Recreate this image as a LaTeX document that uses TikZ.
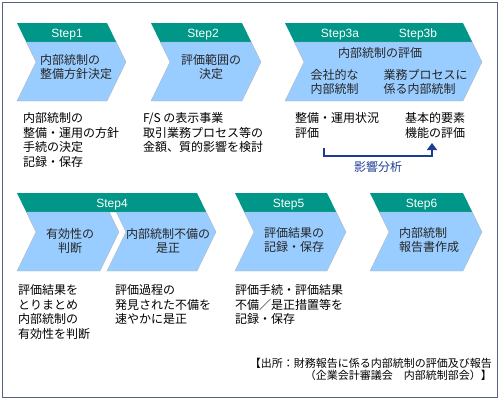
\documentclass[tikz,border=0pt]{standalone}
\usepackage{fontspec}
\setmainfont{Noto Sans CJK JP}
\newfontfamily\latinfont{Liberation Sans}
\usetikzlibrary{arrows.meta}
\definecolor{bandteal}{RGB}{0,150,136}
\definecolor{bodyblue}{RGB}{153,204,255}
\definecolor{framegray}{RGB}{88,98,135}
\definecolor{linkblue}{RGB}{30,60,150}

\begin{document}
\begin{tikzpicture}[
  % 1 unit = 1 px of the 500 x 400 target, y runs downwards
  x=1pt, y=-1pt,
  band/.style={fill=bandteal},
  body/.style={fill=bodyblue, draw=black!30, line width=0.3pt},
  lbl/.style={font=\latinfont\fontsize{12}{14}\selectfont, text=white, inner sep=0pt, anchor=base},
  ctr/.style={font=\fontsize{12}{14}\selectfont, text=black!85, align=center, inner sep=0pt},
  lft/.style={ctr, align=left},
  note/.style={font=\fontsize{12}{14.8}\selectfont, align=left, inner sep=0pt, anchor=north west},
  src/.style={font=\fontsize{11}{12}\selectfont, align=right, inner sep=0pt, anchor=base east},
  link/.style={-{Triangle[length=7pt, width=10pt]}, line width=2pt, linkblue},
]
\useasboundingbox (0,0) rectangle (500,400);
\draw[framegray, line width=1pt] (2,2) rectangle (497,397);
% chevrons: teal band on top, blue body below
\foreach \xa/\xb/\yt in {17/107/23, 151/242/23, 285/463/23, 17/197/193, 235/327/193, 370/463/193}
  \fill[band] (\xa,\yt) -- (\xb,\yt) -- ++(9.26,19) -- ({\xa+9.26},{\yt+19}) -- cycle;
\foreach \xa/\xb/\yt in {17/107/23, 151/242/23, 285/463/23, 17/100/193, 107/197/193, 235/327/193, 370/463/193}
  \filldraw[body] ({\xa+9.26},{\yt+19}) -- ({\xb+9.26},{\yt+19}) -- ({\xb+19},{\yt+39})
    -- (\xb,{\yt+78}) -- (\xa,{\yt+78}) -- ({\xa+19},{\yt+39}) -- cycle;
% row one
\node[lbl] (s1)  at (67,37)  {Step1};
\node[lbl] (s2)  at (203,37) {Step2};
\node[lbl] (s3a) at (340,37) {Step3a};
\node[lbl] (s3b) at (418,37) {Step3b};
\node[lft] (c1)  at (76,66.5)    {内部統制の\\整備方針決定};
\node[ctr] (c2)  at (211,66.5)   {評価範囲の\\決定};
\node[ctr] (c3)  at (380,53)     {内部統制の評価};
\node[ctr] (c3a) at (334.5,81.5) {会社的な\\内部統制};
\node[lft] (c3b) at (425.5,81.5) {業務プロセスに\\係る内部統制};
\node[note] (n1)  at (23,112)  {内部統制の\\整備・運用の方針\\手続の決定\\記録・保存};
\node[note] (n2)  at (143,112) {F/S の表示事業\\取引業務プロセス等の\\金額、質的影響を検討};
\node[note] (n3a) at (295,112) {整備・運用状況\\評価};
\node[note] (n3b) at (405,112) {基本的要素\\機能の評価};
% impact link between 3a and 3b
\coordinate (ia) at (324,148);
\coordinate (ib) at (432,143);
\draw[link] (ia) -- (324,156) -| node[pos=0.25, below=4pt, inner sep=0pt, font=\fontsize{12}{14}\selectfont, text=linkblue] (imp) {影響分析} (ib);
% row two
\node[lbl] (s4) at (112,207)   {Step4};
\node[lbl] (s5) at (288.5,207) {Step5};
\node[lbl] (s6) at (421.5,207) {Step6};
\node[ctr] (c4a) at (70,240.5)  {有効性の\\判断};
\node[ctr] (c4b) at (168,240.5) {内部統制不備の\\是正};
\node[ctr] (c5)  at (294,240)   {評価結果の\\記録・保存};
\node[lft] (c6)  at (429,240)   {内部統制\\報告書作成};
\node[note] (n4a) at (18,284)  {評価結果を\\とりまとめ\\内部統制の\\有効性を判断};
\node[note] (n4b) at (115,284) {評価過程の\\発見された不備を\\速やかに是正};
\node[note] (n5)  at (235,284) {評価手続・評価結果\\不備／是正措置等を\\記録・保存};
% source
\node[src] (ref) at (492,379.2) {【出所：財務報告に係る内部統制の評価及び報告\\（企業会計審議会　内部統制部会）】};
\end{tikzpicture}
\end{document}
